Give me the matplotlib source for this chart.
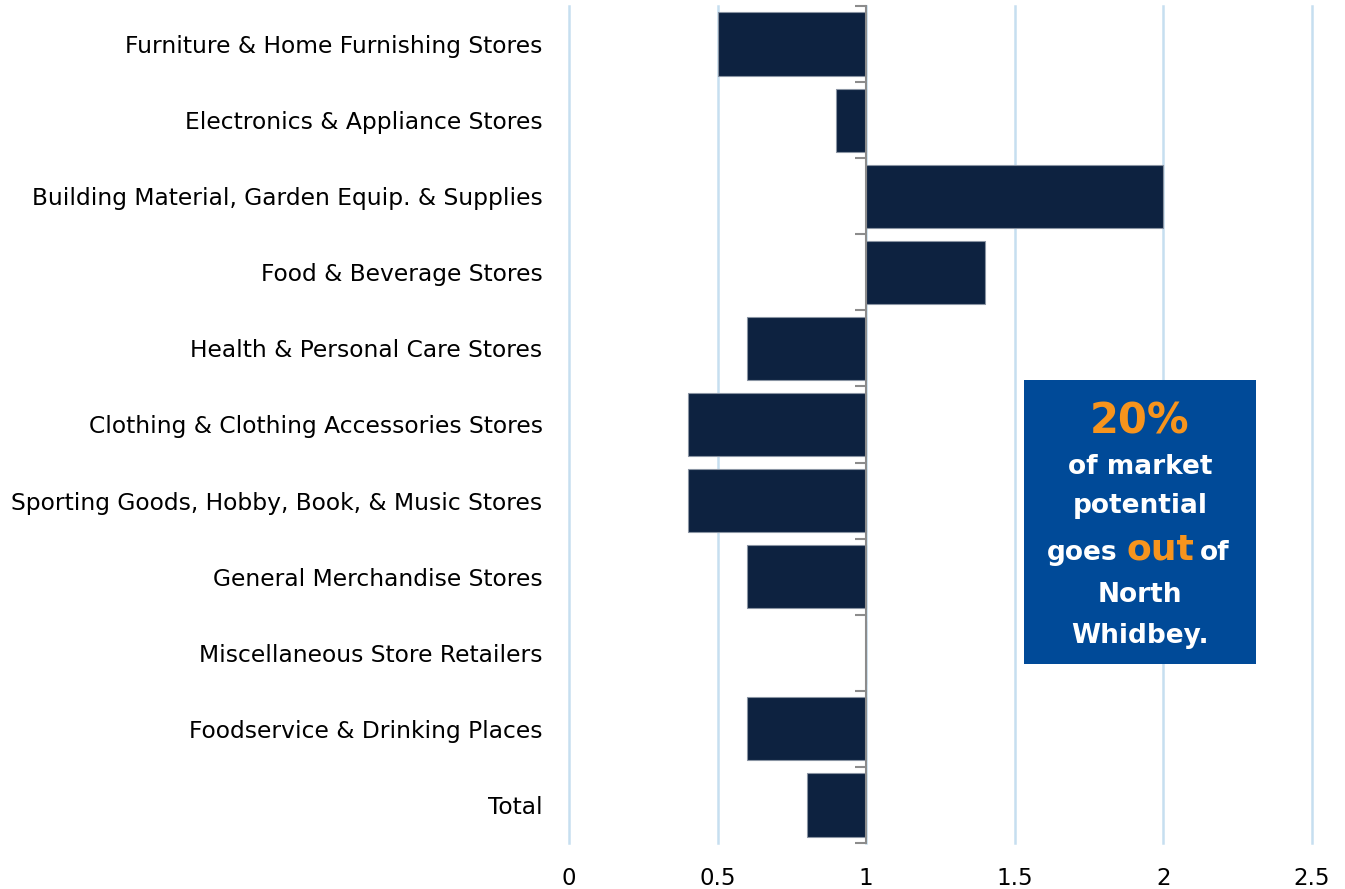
import matplotlib
matplotlib.use("Agg")
import matplotlib.pyplot as plt
import numpy as np

categories = [
    "Furniture & Home Furnishing Stores",
    "Electronics & Appliance Stores",
    "Building Material, Garden Equip. & Supplies",
    "Food & Beverage Stores",
    "Health & Personal Care Stores",
    "Clothing & Clothing Accessories Stores",
    "Sporting Goods, Hobby, Book, & Music Stores",
    "General Merchandise Stores",
    "Miscellaneous Store Retailers",
    "Foodservice & Drinking Places",
    "Total",
]
values = [0.5, 0.9, 2.0, 1.4, 0.6, 0.4, 0.4, 0.6, 1.0, 0.6, 0.8]
xticks = [0, 0.5, 1, 1.5, 2, 2.5]
xticklabels = ["0", "0.5", "1", "1.5", "2", "2.5"]
baseline = 1.0

plt.rcParams['font.family'] = ['DejaVu Sans']

W, H = 1345, 889
fig = plt.figure(figsize=(W / 100, H / 100), dpi=100)
left, right, top, bottom = 569, 1312, 6, 843
ax = fig.add_axes([left / W, 1 - bottom / H, (right - left) / W, (bottom - top) / H])

n = len(categories)
ypos = np.arange(n)
widths = [v - baseline for v in values]
ax.barh(ypos, widths, left=baseline, height=0.83, color="#0d2240",
        edgecolor="#8a94a3", linewidth=0.8, zorder=3)

ax.set_xlim(0, 2.5)
ax.set_ylim(n - 0.5, -0.5)
ax.set_xticks(xticks)
ax.set_xticklabels(xticklabels, fontsize=16.5)
ax.set_yticks(ypos)
ax.set_yticklabels(categories, fontsize=16.8)
ax.tick_params(axis='y', length=0, pad=19)
ax.tick_params(axis='x', length=0, pad=17)
for s in ax.spines.values():
    s.set_visible(False)
ax.grid(axis='x', color="#c6dff0", linewidth=1.8, zorder=0)
ax.grid(axis='y', visible=False)
for gl in ax.get_xgridlines():
    gl.set_clip_on(False)

# axis line at baseline with boundary ticks
ax2 = ax.twinx()
ax2.set_ylim(n - 0.5, -0.5)
for s in ax2.spines.values():
    s.set_visible(False)
ax2.spines['right'].set_visible(True)
ax2.spines['right'].set_position(('data', baseline))
ax2.spines['right'].set_color("#8c8c8c")
ax2.spines['right'].set_linewidth(1.5)
ax2.set_yticks(np.arange(-0.5, n, 1.0))
ax2.set_yticklabels([])
ax2.tick_params(axis='y', direction='in', length=8, width=1.5, color="#8c8c8c")
ax2.set_zorder(4)
ax2.patch.set_visible(False)

# callout box
bx0, by0, bx1, by1 = 1024, 380, 1256, 664
fig.patches.append(plt.Rectangle((bx0 / W, 1 - by1 / H), (bx1 - bx0) / W, (by1 - by0) / H,
                                 transform=fig.transFigure, facecolor="#004a98",
                                 edgecolor="none", zorder=5))
orange = "#f7941d"
cx = 1140
def ft(x, y, s, **kw):
    fig.text(x / W, 1 - y / H, s, zorder=6, fontweight='bold', va='center', **kw)

ft(cx, 421, "20%", color=orange, fontsize=30, ha='center')
ft(cx, 467, "of market", color='white', fontsize=19, ha='center')
ft(cx, 506, "potential", color='white', fontsize=19, ha='center')
ft(1117, 553, "goes", color='white', fontsize=19, ha='right')
ft(1160, 549, "out", color=orange, fontsize=26, ha='center')
ft(1200, 553, "of", color='white', fontsize=19, ha='left')
ft(cx, 595, "North", color='white', fontsize=19, ha='center')
ft(cx, 636, "Whidbey.", color='white', fontsize=19, ha='center')

fig.savefig("out.png", dpi=100)
